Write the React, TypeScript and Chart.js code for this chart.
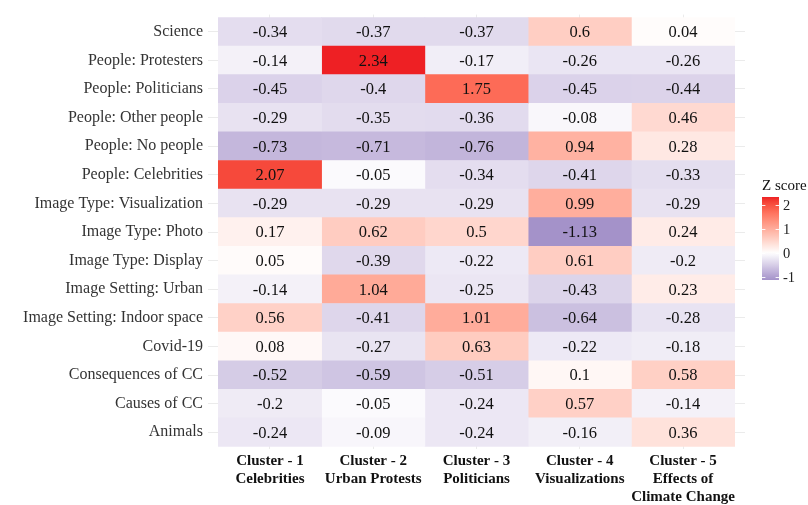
import React, { useEffect, useRef } from "react";
import { Chart, registerables } from "chart.js";

Chart.register(...registerables);

const rowLabels: string[] = [
  "Science",
  "People: Protesters",
  "People: Politicians",
  "People: Other people",
  "People: No people",
  "People: Celebrities",
  "Image Type: Visualization",
  "Image Type: Photo",
  "Image Type: Display",
  "Image Setting: Urban",
  "Image Setting: Indoor space",
  "Covid-19",
  "Consequences of CC",
  "Causes of CC",
  "Animals",
];

const clusterLabels: string[][] = [
  ["Cluster - 1", "Celebrities"],
  ["Cluster - 2", "Urban Protests"],
  ["Cluster - 3", "Politicians"],
  ["Cluster - 4", "Visualizations"],
  ["Cluster - 5", "Effects of", "Climate Change"],
];

const cluster1: number[] = [-0.34, -0.14, -0.45, -0.29, -0.73, 2.07, -0.29, 0.17, 0.05, -0.14, 0.56, 0.08, -0.52, -0.2, -0.24];
const cluster2: number[] = [-0.37, 2.34, -0.4, -0.35, -0.71, -0.05, -0.29, 0.62, -0.39, 1.04, -0.41, -0.27, -0.59, -0.05, -0.09];
const cluster3: number[] = [-0.37, -0.17, 1.75, -0.36, -0.76, -0.34, -0.29, 0.5, -0.22, -0.25, 1.01, 0.63, -0.51, -0.24, -0.24];
const cluster4: number[] = [0.6, -0.26, -0.45, -0.08, 0.94, -0.41, 0.99, -1.13, 0.61, -0.43, -0.64, -0.22, 0.1, 0.57, -0.16];
const cluster5: number[] = [0.04, -0.26, -0.44, 0.46, 0.28, -0.33, -0.29, 0.24, -0.2, 0.23, -0.28, -0.18, 0.58, -0.14, 0.36];

const seriesValues: number[][] = [cluster1, cluster2, cluster3, cluster4, cluster5];
const legendTicks: number[] = [-1, 0, 1, 2];
const legendTitle = "Z score";

const FONT = "'Liberation Serif', 'DejaVu Serif', serif";

// ---------- colour helpers (Lab interpolation) ----------
function hexToRgb(h: string): number[] {
  const n = parseInt(h.slice(1), 16);
  return [(n >> 16) & 255, (n >> 8) & 255, n & 255];
}
function toLin(c: number) {
  c /= 255;
  return c <= 0.04045 ? c / 12.92 : Math.pow((c + 0.055) / 1.055, 2.4);
}
function fromLin(c: number) {
  const v = c <= 0.0031308 ? 12.92 * c : 1.055 * Math.pow(c, 1 / 2.4) - 0.055;
  return Math.max(0, Math.min(255, Math.round(v * 255)));
}
const WX = 0.95047, WY = 1.0, WZ = 1.08883;
function rgbToLab(rgb: number[]): number[] {
  const [r, g, b] = rgb.map(toLin);
  const x = (r * 0.4124 + g * 0.3576 + b * 0.1805) / WX;
  const y = (r * 0.2126 + g * 0.7152 + b * 0.0722) / WY;
  const z = (r * 0.0193 + g * 0.1192 + b * 0.9505) / WZ;
  const f = (t: number) => (t > 0.008856 ? Math.cbrt(t) : 7.787 * t + 16 / 116);
  const fx = f(x), fy = f(y), fz = f(z);
  return [116 * fy - 16, 500 * (fx - fy), 200 * (fy - fz)];
}
function labToRgb(lab: number[]): number[] {
  const [L, a, bb] = lab;
  const fy = (L + 16) / 116;
  const fx = fy + a / 500;
  const fz = fy - bb / 200;
  const inv = (t: number) => (t * t * t > 0.008856 ? t * t * t : (t - 16 / 116) / 7.787);
  const x = inv(fx) * WX, y = inv(fy) * WY, z = inv(fz) * WZ;
  const r = x * 3.2406 + y * -1.5372 + z * -0.4986;
  const g = x * -0.9689 + y * 1.8758 + z * 0.0415;
  const b = x * 0.0557 + y * -0.204 + z * 1.057;
  return [fromLin(r), fromLin(g), fromLin(b)];
}
const allVals = seriesValues.flat();
const vMax = Math.max(...allVals);
const vMin = Math.min(...allVals);
const LAB_HIGH = rgbToLab(hexToRgb("#EE2024"));
const LAB_LOW = rgbToLab(hexToRgb("#A492C9"));
const LAB_MID = rgbToLab([255, 255, 255]);
function colorFor(v: number): string {
  let t: number, end: number[];
  if (v >= 0) { t = v / vMax; end = LAB_HIGH; } else { t = v / vMin; end = LAB_LOW; }
  t = Math.max(0, Math.min(1, t));
  const lab = LAB_MID.map((m, i) => m + (end[i] - m) * t);
  const [r, g, b] = labToRgb(lab);
  return `rgb(${r},${g},${b})`;
}

// ---------- plugins ----------
const cellLabelPlugin = {
  id: "cellLabels",
  afterDatasetsDraw(chart: any) {
    const ctx = chart.ctx;
    ctx.save();
    ctx.font = `16.5px ${FONT}`;
    ctx.fillStyle = "#111";
    ctx.textAlign = "center";
    ctx.textBaseline = "middle";
    chart.data.datasets.forEach((ds: any, di: number) => {
      const meta = chart.getDatasetMeta(di);
      meta.data.forEach((el: any, i: number) => {
        const p = el.getProps(["x", "y", "base"], true);
        const cx = (p.x + p.base) / 2;
        ctx.fillText(String(seriesValues[di][i]), cx, p.y + 1);
      });
    });
    ctx.restore();
  },
};

const colorbarPlugin = {
  id: "colorbar",
  afterDraw(chart: any) {
    const ctx = chart.ctx;
    const x0 = 762, w = 17, top = 197, bottom = 280;
    const span = vMax - vMin;
    const yOf = (v: number) => top + ((vMax - v) / span) * (bottom - top);
    ctx.save();
    const grad = ctx.createLinearGradient(0, top, 0, bottom);
    const n = 30;
    for (let k = 0; k <= n; k++) {
      const v = vMax - (span * k) / n;
      grad.addColorStop(k / n, colorFor(v));
    }
    ctx.fillStyle = grad;
    ctx.fillRect(x0, top, w, bottom - top);
    ctx.strokeStyle = "rgba(255,255,255,0.9)";
    ctx.lineWidth = 1;
    ctx.font = `14.5px ${FONT}`;
    ctx.fillStyle = "#222";
    ctx.textBaseline = "middle";
    ctx.textAlign = "left";
    legendTicks.forEach((t) => {
      const y = Math.round(yOf(t)) + 0.5;
      ctx.beginPath();
      ctx.moveTo(x0, y); ctx.lineTo(x0 + 3.4, y);
      ctx.moveTo(x0 + w - 3.4, y); ctx.lineTo(x0 + w, y);
      ctx.stroke();
      ctx.fillText(String(t), x0 + w + 4, y + 1);
    });
    ctx.font = `15px ${FONT}`;
    ctx.fillStyle = "#111";
    ctx.textBaseline = "alphabetic";
    ctx.fillText(legendTitle, x0, 190);
    ctx.restore();
  },
};

export default function App() {
  const ref = useRef<HTMLCanvasElement | null>(null);
  useEffect(() => {
    if (!ref.current) return;
    const datasets = seriesValues.map((vals, c) => ({
      label: clusterLabels[c].join(" "),
      data: vals.map((_, i) => ({ x: [c, c + 1], y: i })),
      backgroundColor: vals.map(colorFor),
      borderWidth: 0,
      grouped: false,
      barPercentage: 1,
      categoryPercentage: 1,
    }));
    const chart = new Chart(ref.current, {
      type: "bar",
      data: { datasets } as any,
      options: {
        indexAxis: "y",
        animation: false,
        responsive: true,
        maintainAspectRatio: false,
        layout: { padding: { left: 0, right: 63, top: 9.6, bottom: 0 } },
        plugins: { legend: { display: false }, tooltip: { enabled: false } },
        scales: {
          x: {
            type: "linear",
            min: -0.1,
            max: 5.1,
            offset: false,
            afterBuildTicks: (s: any) => {
              s.ticks = clusterLabels.map((_, i) => ({ value: i + 0.5 }));
            },
            afterFit: (s: any) => { s.height = 55.6; },
            ticks: {
              autoSkip: false,
              maxRotation: 0,
              padding: 3,
              color: "#111",
              font: { family: FONT, size: 15, weight: "bold", lineHeight: 1.2 },
              callback: (v: any) => clusterLabels[Math.round(Number(v) - 0.5)] as any,
            },
            grid: { color: "#EBEBEB", lineWidth: 1, drawTicks: false, offset: false },
            border: { display: false },
          },
          y: {
            type: "linear",
            reverse: true,
            min: -0.6,
            max: 14.6,
            offset: false,
            afterBuildTicks: (s: any) => {
              s.ticks = rowLabels.map((_, i) => ({ value: i }));
            },
            afterFit: (s: any) => { s.width = 208; },
            ticks: {
              autoSkip: false,
              padding: 5,
              color: "#333",
              font: { family: FONT, size: 16 },
              callback: (v: any) => rowLabels[Math.round(Number(v))],
            },
            grid: { color: "#EBEBEB", lineWidth: 1, drawTicks: false, offset: false },
            border: { display: false },
          },
        },
      } as any,
      plugins: [cellLabelPlugin, colorbarPlugin],
    });
    return () => chart.destroy();
  }, []);
  return (
    <div style={{ position: "fixed", left: 0, top: 0, width: 808, height: 505, background: "#fff" }}>
      <canvas ref={ref} />
    </div>
  );
}
